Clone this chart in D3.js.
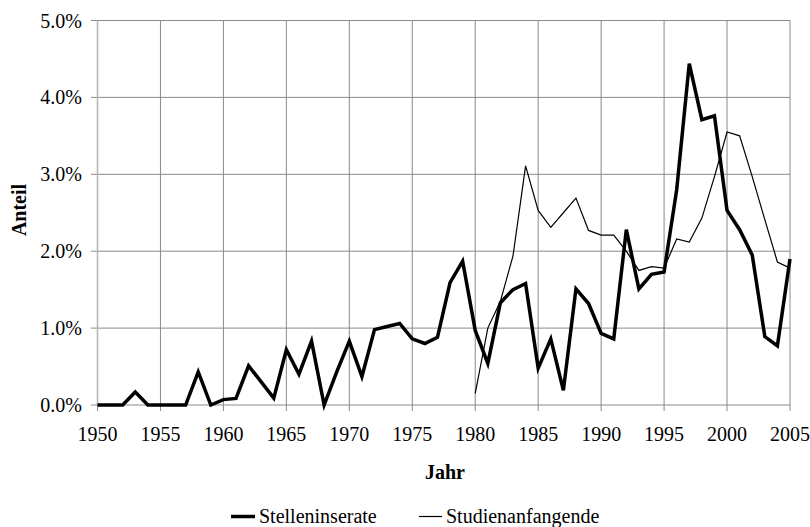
<!DOCTYPE html>
<html>
<head>
<meta charset="utf-8">
<script src="https://cdn.jsdelivr.net/npm/d3@7"></script>
<style>
body { margin: 0; background: #fff; }
</style>
</head>
<body>
<svg id="chart" width="810" height="527"></svg>
<script>
var years = d3.range(1950, 2006);

var stelleninserate = [
	0, 0, 0, 0.17, 0, 0, 0, 0, 0.43, 0,
	0.07, 0.085, 0.51, 0.30, 0.09, 0.72, 0.40, 0.83, 0, 0.43,
	0.83, 0.37, 0.98, 1.02, 1.06, 0.86, 0.80, 0.88, 1.59, 1.87,
	0.97, 0.54, 1.33, 1.50, 1.58, 0.48, 0.86, 0.19, 1.51, 1.32,
	0.93, 0.86, 2.28, 1.51, 1.70, 1.73, 2.80, 4.44, 3.71, 3.76,
	2.53, 2.28, 1.95, 0.89, 0.77, 1.90
];

var studienYears = d3.range(1980, 2006);
var studienanfangende = [
	0.15, 1.0, 1.35, 1.94, 3.11, 2.53, 2.31, 2.50, 2.69, 2.27,
	2.21, 2.21, 2.00, 1.75, 1.80, 1.78, 2.16, 2.12, 2.43, 2.97,
	3.55, 3.50, 2.97, 2.41, 1.86, 1.78
];

var xTicks = d3.range(1950, 2006, 5);
var yTicks = [0, 1, 2, 3, 4, 5];
var legendLabels = ["Stelleninserate", "Studienanfangende"];

var font = "'Liberation Serif', 'Times New Roman', Tinos, 'DejaVu Serif', serif";

var svg = d3.select("#chart")
	.attr("font-family", font);
var x = d3.scaleLinear().domain([1950, 2005]).range([97.5, 790]);
var y = d3.scaleLinear().domain([0, 5]).range([405, 20.5]);

// gridlines
svg.append("g").selectAll("line")
	.data(yTicks)
	.enter().append("line")
	.attr("x1", 91).attr("x2", x(2005))
	.attr("y1", function(d) { return y(d); })
	.attr("y2", function(d) { return y(d); })
	.attr("stroke", "#8a8a8a").attr("stroke-width", 1);
svg.append("g").selectAll("line")
	.data(xTicks)
	.enter().append("line")
	.attr("x1", function(d) { return x(d); })
	.attr("x2", function(d) { return x(d); })
	.attr("y1", y(5)).attr("y2", 411)
	.attr("stroke", "#8a8a8a").attr("stroke-width", 1);
svg.append("line")
	.attr("x1", x(1950)).attr("x2", x(1950))
	.attr("y1", y(5)).attr("y2", y(0))
	.attr("stroke", "#b5b5b5").attr("stroke-width", 1.5);

// tick labels
svg.append("g").selectAll("text")
	.data(yTicks)
	.enter().append("text")
	.attr("font-family", font)
	.attr("x", 82)
	.attr("y", function(d) { return y(d); })
	.attr("dy", "0.35em")
	.attr("text-anchor", "end")
	.attr("font-size", 20)
	.text(function(d) { return d3.format(".1f")(d) + "%"; });
svg.append("g").selectAll("text")
	.data(xTicks)
	.enter().append("text")
	.attr("font-family", font)
	.attr("x", function(d) { return x(d); })
	.attr("y", 441)
	.attr("text-anchor", "middle")
	.attr("font-size", 20)
	.text(function(d) { return d; });

// axis titles
svg.append("text")
	.attr("font-family", font)
	.attr("transform", "translate(26,210) rotate(-90)")
	.attr("text-anchor", "middle")
	.attr("font-size", 20)
	.attr("font-weight", "bold")
	.text("Anteil");
svg.append("text")
	.attr("font-family", font)
	.attr("x", 445).attr("y", 479)
	.attr("text-anchor", "middle")
	.attr("font-size", 20)
	.attr("font-weight", "bold")
	.text("Jahr");

// lines
var line = d3.line()
	.x(function(d) { return x(d[0]); })
	.y(function(d) { return y(d[1]); });

svg.append("path")
	.datum(d3.zip(studienYears, studienanfangende))
	.attr("d", line)
	.attr("fill", "none")
	.attr("stroke", "#000")
	.attr("stroke-width", 1.2);
svg.append("path")
	.datum(d3.zip(years, stelleninserate))
	.attr("d", line)
	.attr("fill", "none")
	.attr("stroke", "#000")
	.attr("stroke-width", 3.5)
	.attr("stroke-linejoin", "miter");

// legend
var legend = svg.append("g");
legend.append("line")
	.attr("x1", 231).attr("x2", 255).attr("y1", 516.5).attr("y2", 516.5)
	.attr("stroke", "#000").attr("stroke-width", 3.5);
legend.append("text")
	.attr("font-family", font)
	.attr("x", 259).attr("y", 523).attr("font-size", 20)
	.text(legendLabels[0]);
legend.append("line")
	.attr("x1", 419).attr("x2", 442).attr("y1", 516.5).attr("y2", 516.5)
	.attr("stroke", "#000").attr("stroke-width", 1.2);
legend.append("text")
	.attr("font-family", font)
	.attr("x", 446).attr("y", 523).attr("font-size", 20)
	.text(legendLabels[1]);
</script>
</body>
</html>
